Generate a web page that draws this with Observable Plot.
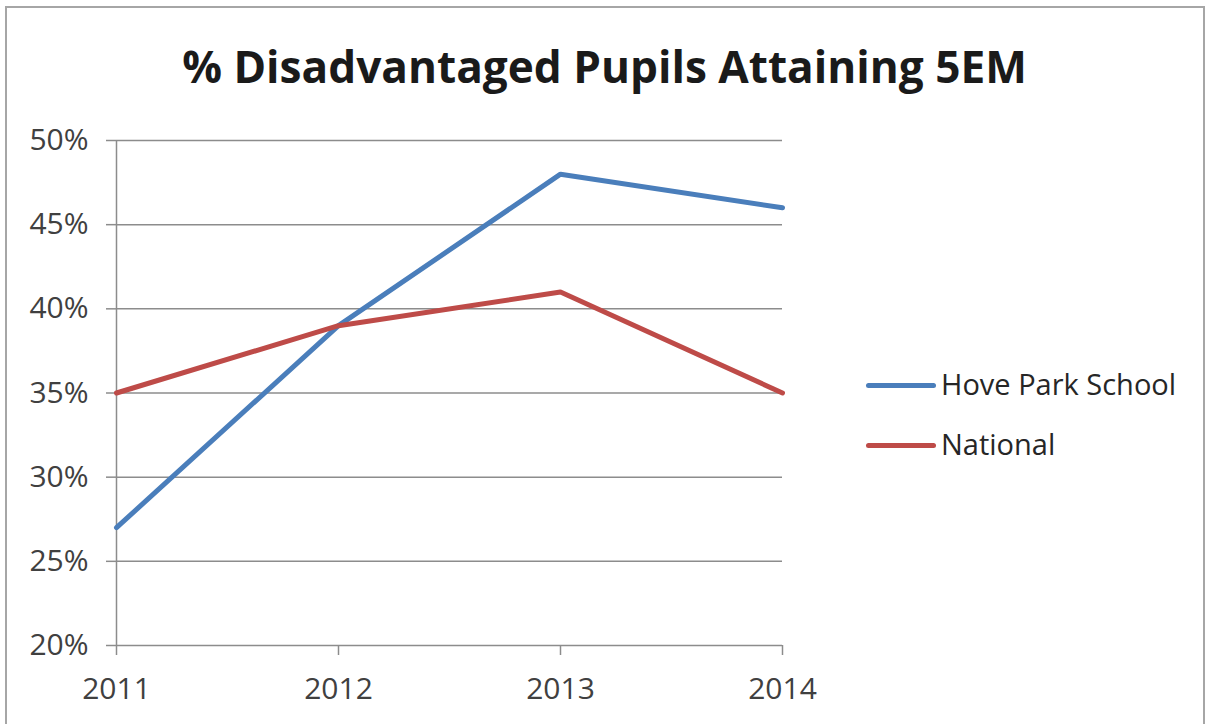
<!DOCTYPE html>
<html>
<head>
<meta charset="utf-8">
<script src="https://cdn.jsdelivr.net/npm/d3@7"></script>
<script src="https://cdn.jsdelivr.net/npm/@observablehq/plot@0.6"></script>
<style>
  html, body { margin: 0; padding: 0; background: #fff; overflow: hidden; }
  #wrap { position: relative; width: 1209px; height: 724px; font-family: "Open Sans", sans-serif; color: #262626; }
  #frame { position: absolute; left: 5px; top: 6px; width: 1200px; height: 740px; border: 2px solid #a6a6a6; box-sizing: border-box; }
  #title { position: absolute; left: 0; width: 1209px; text-align: center; font-weight: bold; line-height: 1; white-space: nowrap; color: #1a1a1a; }
  #chart { position: absolute; left: 0; top: 100px; }
  .lg-line { position: absolute; height: 5px; border-radius: 2.5px; }
  .lg-text { position: absolute; line-height: 1; white-space: nowrap; color: #262626; }
</style>
</head>
<body>
<div id="wrap">
  <div id="frame"></div>
  <div id="title"></div>
  <div id="chart"></div>
  <div id="legend"></div>
</div>
<script>
// ---- data ----
const titleText = "% Disadvantaged Pupils Attaining 5EM";
const years = [2011, 2012, 2013, 2014];
const seriesNames = ["Hove Park School", "National"];
const seriesColors = ["#4a7ebb", "#be4b48"];
const hovePark = [27, 39, 48, 46];
const national = [35, 39, 41, 35];
const yTicks = [20, 25, 30, 35, 40, 45, 50];

const rows = [];
years.forEach((yr, i) => rows.push({year: yr, value: hovePark[i], series: seriesNames[0]}));
years.forEach((yr, i) => rows.push({year: yr, value: national[i], series: seriesNames[1]}));

// ---- title (fit to reference width) ----
const titleEl = document.getElementById("title");
const ctx = document.createElement("canvas").getContext("2d");
ctx.font = 'bold 40px "Open Sans"';
const w40 = ctx.measureText(titleText).width;
const titleSize = 40 * 845 / w40;
titleEl.textContent = titleText;
titleEl.style.fontSize = titleSize + "px";
titleEl.style.top = (83 - 0.888 * titleSize) + "px";

// ---- chart ----
const gridColor = "#8c8c8c";
const chart = Plot.plot({
  width: 900,
  height: 624,
  marginLeft: 116,
  marginRight: 118,
  marginTop: 40,
  marginBottom: 79,
  style: {fontFamily: '"Open Sans", sans-serif', fontSize: "30px", background: "transparent"},
  x: {type: "linear", domain: [years[0], years[years.length - 1]]},
  y: {domain: [yTicks[0], yTicks[yTicks.length - 1]]},
  color: {domain: seriesNames, range: seriesColors},
  marks: [
    Plot.ruleY(yTicks, {stroke: gridColor, strokeWidth: 1.5}),
    Plot.ruleX([years[0]], {stroke: gridColor, strokeWidth: 1.5}),
    Plot.axisY({ticks: yTicks, tickFormat: d => d + "%", tickSize: 10, tickPadding: 18,
                stroke: gridColor, strokeWidth: 1.5, fill: "#404040", label: null}),
    Plot.axisX({ticks: years, tickFormat: d => String(d), tickSize: 10, tickPadding: 22,
                stroke: gridColor, strokeWidth: 1.5, fill: "#404040", label: null}),
    Plot.line(rows, {x: "year", y: "value", stroke: "series", z: "series",
                     strokeWidth: 5, strokeLinejoin: "miter", strokeLinecap: "round"})
  ]
});
document.getElementById("chart").appendChild(chart);

// ---- legend ----
const legend = document.getElementById("legend");
const lgSize = 29;
const lgBaselines = [395, 455];
seriesNames.forEach((name, i) => {
  const line = document.createElement("div");
  line.className = "lg-line";
  line.style.left = "866px";
  line.style.width = "70px";
  line.style.top = (lgBaselines[i] - 12.5) + "px";
  line.style.background = seriesColors[i];
  legend.appendChild(line);
  const t = document.createElement("div");
  t.className = "lg-text";
  t.style.left = "941px";
  t.style.fontSize = lgSize + "px";
  t.style.top = (lgBaselines[i] - 0.888 * lgSize) + "px";
  t.textContent = name;
  legend.appendChild(t);
});
</script>
</body>
</html>
